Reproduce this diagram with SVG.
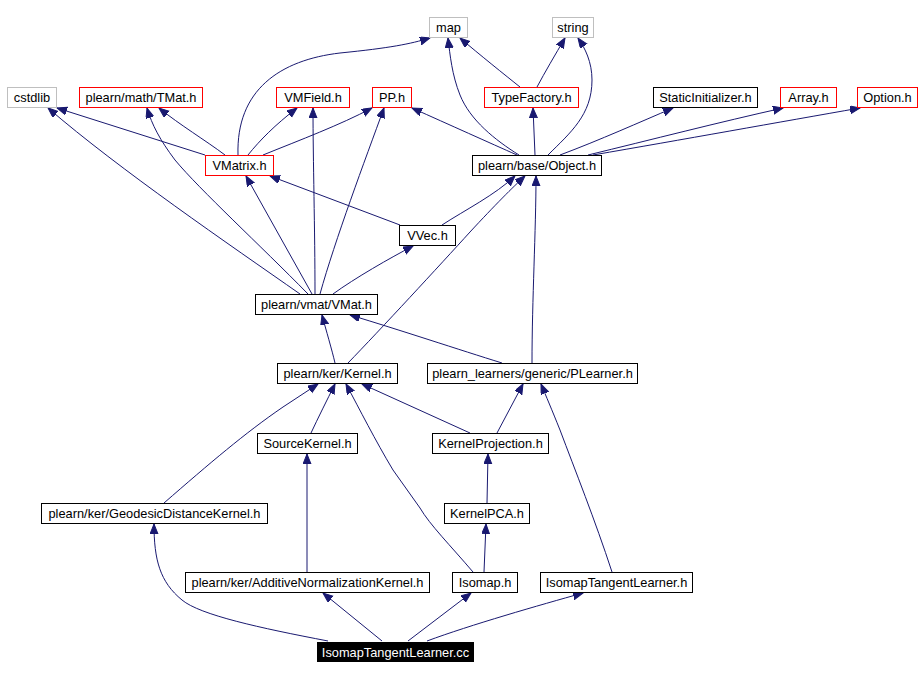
<svg xmlns="http://www.w3.org/2000/svg" width="921" height="678" viewBox="0 0 921 678">
<style>
.n rect{fill:#fff;stroke:#000;stroke-width:1}
.n.r rect{stroke:#ff0000}
.n.g rect{stroke:#bfbfbf}
.n text{font-family:"Liberation Sans",Arial,sans-serif;font-size:12.8px;text-anchor:middle;fill:#000}
.n.b rect{fill:#000}
.n.b text{fill:#fff}
#edges path{fill:none;stroke:#191970;stroke-width:1;marker-end:url(#ah)}
</style>
<defs>
<marker id="ah" markerUnits="userSpaceOnUse" markerWidth="12" markerHeight="9" refX="10" refY="4" orient="auto">
<path d="M0,0 L10,4 L0,8 z" fill="#191970" stroke="#191970" stroke-width="1"/>
</marker>
</defs>
<rect width="921" height="678" fill="#fff"/>
<g id="edges">
<path d="M328,641 C260,628 200,615 182,600 C160,582 154,560 154,524"/>
<path d="M382,641 L323,593"/>
<path d="M408,641 L471,593"/>
<path d="M427,641 C470,625 540,605 583,593"/>
<path d="M307,572 L307,454"/>
<path d="M164,503 C210,463 245,433 283,407 L318,384"/>
<path d="M311,433 C318,418 327,400 335,384"/>
<path d="M473,572 C450,545 430,525 420,508 L393,470 C375,440 360,410 346,384"/>
<path d="M470,433 L362,384"/>
<path d="M497,433 L523,384"/>
<path d="M487,503 L488,454"/>
<path d="M484,572 L486,524"/>
<path d="M612,572 C595,520 575,470 560,430 C552,410 546,396 541,384"/>
<path d="M335,363 C332,350 326,330 322,315"/>
<path d="M348,363 C380,330 440,265 470,232 C495,205 513,187 525,176"/>
<path d="M502,363 C460,350 400,330 350,315"/>
<path d="M532,363 C532,300 536,230 536,176"/>
<path d="M333,294 C355,278 390,258 413,246"/>
<path d="M312,294 L246,176"/>
<path d="M300,294 C230,245 120,170 48,108"/>
<path d="M308,294 C260,245 200,190 175,160 C160,140 152,125 147,108"/>
<path d="M315,294 C315,230 313,160 313,108"/>
<path d="M320,294 C335,240 365,160 384,108"/>
<path d="M400,225 L270,176"/>
<path d="M442,225 C465,210 495,195 515,176"/>
<path d="M205,155 L57,108"/>
<path d="M225,155 C205,140 180,125 159,108"/>
<path d="M248,155 C260,140 275,125 297,108"/>
<path d="M263,155 C300,140 340,125 372,108"/>
<path d="M238,155 C236,90 280,60 340,53 C390,48 410,44 430,38"/>
<path d="M519,155 C495,140 470,120 460,95 C452,75 450,55 448,38"/>
<path d="M535,155 L533,108"/>
<path d="M548,155 C570,133 592,115 592,80 C592,62 585,48 578,38"/>
<path d="M517,155 C490,143 450,125 412,108"/>
<path d="M560,155 C600,140 640,122 673,108"/>
<path d="M588,155 C650,140 720,122 783,108"/>
<path d="M593,155 C680,140 780,122 860,108"/>
<path d="M520,87 C505,75 480,55 460,38"/>
<path d="M537,87 C545,72 555,55 565,38"/>
</g>
<g id="map" class="n g"><rect x="429.5" y="17.5" width="38" height="20"/><text x="448.5" y="32">map</text></g>
<g id="string" class="n g"><rect x="552.5" y="17.5" width="41" height="20"/><text x="573" y="32">string</text></g>
<g id="cstdlib" class="n g"><rect x="7.5" y="87.5" width="49" height="20"/><text x="32" y="102">cstdlib</text></g>
<g id="tmat" class="n r"><rect x="79.5" y="87.5" width="123" height="20"/><text x="141" y="102">plearn/math/TMat.h</text></g>
<g id="vmfield" class="n r"><rect x="276.5" y="87.5" width="73" height="20"/><text x="313" y="102">VMField.h</text></g>
<g id="pp" class="n r"><rect x="372.5" y="87.5" width="39" height="20"/><text x="392" y="102">PP.h</text></g>
<g id="typefactory" class="n r"><rect x="484.5" y="87.5" width="94" height="20"/><text x="531.5" y="102">TypeFactory.h</text></g>
<g id="staticinit" class="n"><rect x="653.5" y="87.5" width="104" height="20"/><text x="705.5" y="102">StaticInitializer.h</text></g>
<g id="array" class="n r"><rect x="780.5" y="87.5" width="56" height="20"/><text x="808.5" y="102">Array.h</text></g>
<g id="option" class="n r"><rect x="857.5" y="87.5" width="60" height="20"/><text x="887.5" y="102">Option.h</text></g>
<g id="vmatrix" class="n r"><rect x="205.5" y="155.5" width="68" height="20"/><text x="239.5" y="170">VMatrix.h</text></g>
<g id="object" class="n"><rect x="472.5" y="155.5" width="129" height="20"/><text x="537" y="170">plearn/base/Object.h</text></g>
<g id="vvec" class="n"><rect x="399.5" y="225.5" width="56" height="20"/><text x="427.5" y="240">VVec.h</text></g>
<g id="vmat" class="n"><rect x="255.5" y="294.5" width="122" height="20"/><text x="316.5" y="309">plearn/vmat/VMat.h</text></g>
<g id="kernel" class="n"><rect x="277.5" y="363.5" width="120" height="20"/><text x="337.5" y="378">plearn/ker/Kernel.h</text></g>
<g id="plearner" class="n"><rect x="427.5" y="363.5" width="210" height="20"/><text x="532.5" y="378">plearn_learners/generic/PLearner.h</text></g>
<g id="sourcekernel" class="n"><rect x="257.5" y="433.5" width="100" height="20"/><text x="307.5" y="448">SourceKernel.h</text></g>
<g id="kernelprojection" class="n"><rect x="432.5" y="433.5" width="116" height="20"/><text x="490.5" y="448">KernelProjection.h</text></g>
<g id="geodesic" class="n"><rect x="41.5" y="503.5" width="226" height="20"/><text x="154.5" y="518">plearn/ker/GeodesicDistanceKernel.h</text></g>
<g id="kernelpca" class="n"><rect x="444.5" y="503.5" width="85" height="20"/><text x="487" y="518">KernelPCA.h</text></g>
<g id="additive" class="n"><rect x="185.5" y="572.5" width="244" height="20"/><text x="307.5" y="587">plearn/ker/AdditiveNormalizationKernel.h</text></g>
<g id="isomap" class="n"><rect x="452.5" y="572.5" width="65" height="20"/><text x="485" y="587">Isomap.h</text></g>
<g id="itlh" class="n"><rect x="540.5" y="572.5" width="152" height="20"/><text x="616.5" y="587">IsomapTangentLearner.h</text></g>
<g id="itlcc" class="n b"><rect x="317.5" y="642.5" width="156" height="19"/><text x="395.5" y="656.5">IsomapTangentLearner.cc</text></g>
</svg>
